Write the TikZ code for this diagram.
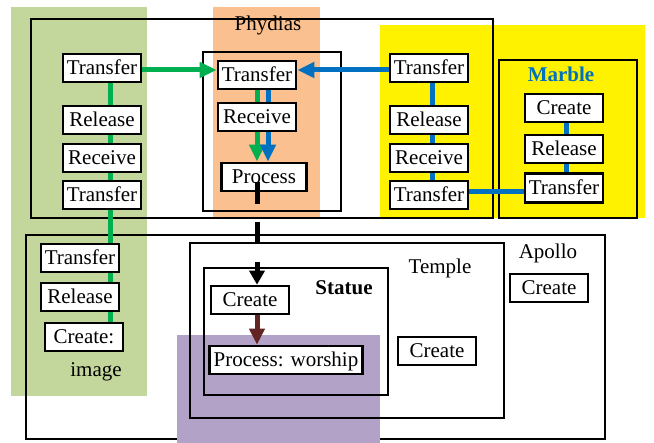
\documentclass[tikz,border=0pt]{standalone}
\usepackage{fontspec}
\setmainfont{Liberation Serif}
\usetikzlibrary{arrows.meta,positioning,calc}
\usepackage{xcolor}

\definecolor{bgreen}{HTML}{C3D69B}
\definecolor{borange}{HTML}{FAC090}
\definecolor{bpurple}{HTML}{B3A2C7}
\definecolor{pgreen}{HTML}{00B050}
\definecolor{pblue}{HTML}{0070C0}
\definecolor{pbrown}{HTML}{632523}

\pgfdeclarelayer{back}
\pgfdeclarelayer{mid}
\pgfsetlayers{back,mid,main}

\begin{document}
\begin{tikzpicture}[x=1pt,y=-1pt,
            every node/.style={font=\fontsize{21}{23}\selectfont},
            act/.style={draw,line width=2.6pt,fill=white,minimum width=78pt,minimum height=28pt,inner sep=3pt,text height=15pt,text depth=1pt},
            grp/.style={draw,line width=2pt},
            gline/.style={line width=5pt,draw=pgreen},
            bline/.style={line width=5pt,draw=pblue},
            tip/.style={-{Triangle[length=17pt,width=15pt]}}
        ]
            \useasboundingbox (0,0) rectangle (654,443);

            % Phydias
            \node[act] (ltA) at (102,68) {Transfer};
            \node[act] (ltB) at (102,120) {Release};
            \node[act] (ltC) at (102,158) {Receive};
            \node[act] (ltD) at (102,195) {Transfer};
            \node[act] (cA) at (257,75) {Transfer};
            \node[act] (cB) at (257,117) {Receive};
            \node[act,minimum width=85pt] (cP) at (264,177) {Process};
            \node[act] (rA) at (429,68) {Transfer};
            \node[act] (rB) at (429,120) {Release};
            \node[act] (rC) at (429,158) {Receive};
            \node[act] (rD) at (429,195) {Transfer};
            \node (phy) at (268,25) {Phydias};

            % Marble
            \node[act] (mA) at (564,108) {Create};
            \node[act] (mB) at (564,149) {Release};
            \node[act,minimum height=29pt] (mC) at (564,188) {Transfer};
            \node[text=pblue,font=\fontsize{21}{23}\selectfont\bfseries] (mar) at (561,74) {Marble};

            % Apollo, Temple, Statue
            \node[act] (lbA) at (80,258) {Transfer};
            \node[act] (lbB) at (80,297) {Release};
            \node[act] (lbC) at (84,337) {Create:};
            \node (img) at (96,372) {image};
            \node[act] (sA) at (250,300) {Create};
            \node[act,inner xsep=4pt] (sB) at (286,360) {Process: worship};
            \node[act] (tA) at (437,351) {Create};
            \node[act] (aA) at (549,288) {Create};
            \node (apo) at (548,253) {Apollo};
            \node (tem) at (440,268) {Temple};
            \node[font=\fontsize{21}{23}\selectfont\bfseries] (sta) at (344,288) {Statue};

            \begin{pgfonlayer}{back}
                \fill[bgreen] (11,7) rectangle (147,396);
                \fill[borange] (213,7) rectangle (320,218);
                \fill[yellow] (380,25) rectangle (645,218);
                \draw[grp] (26,235) rectangle (605,439);
                \fill[bpurple] (177,335) rectangle (380,443);
                \draw[grp] (31,19) rectangle (493,218);
                \draw[grp] (203,52) rectangle (341,211);
                \draw[grp] (499,60) rectangle (637,218);
                \draw[grp] (190,243) rectangle (504,418);
                \draw[grp] (204,268) rectangle (388,395);
            \end{pgfonlayer}

            \begin{pgfonlayer}{mid}
                \coordinate (gA) at ([yshift=-2pt]ltA.east);
                \draw[gline,tip] (gA) -- (gA -| cA.west);
                \draw[bline,tip] (rA.west |- gA) -- (gA -| cA.east);
                \draw[gline] ([xshift=8pt]ltA.south) -- ([xshift=8pt]ltA.south |- lbC.north);
                \draw[gline,tip] (cA.south) -- (cA.south |- cP.north);
                \draw[bline,tip] ([xshift=11pt]cA.south) -- ([xshift=11pt]cA.south |- cP.north);
                \draw[bline] ([xshift=3pt]rA.south) -- ([xshift=3pt]rD.north);
                \coordinate (bD) at ([yshift=3pt]rD.east);
                \draw[bline] (bD) -- (bD -| mC.west);
                \draw[bline] ([xshift=2pt]mA.south) -- ([xshift=2pt]mC.north);
            \end{pgfonlayer}

            \draw[line width=5pt,dash pattern=on 22pt off 18pt,-{Triangle[length=14pt,width=15pt]}]
                ([yshift=-5pt]cA.south |- cP.center) -- (cA.south |- sA.north);
            \draw[line width=5pt,draw=pbrown,-{Triangle[length=16pt,width=15pt]}]
                (cA.south |- sA.south) -- (cA.south |- sB.north);
        \end{tikzpicture}
\end{document}
